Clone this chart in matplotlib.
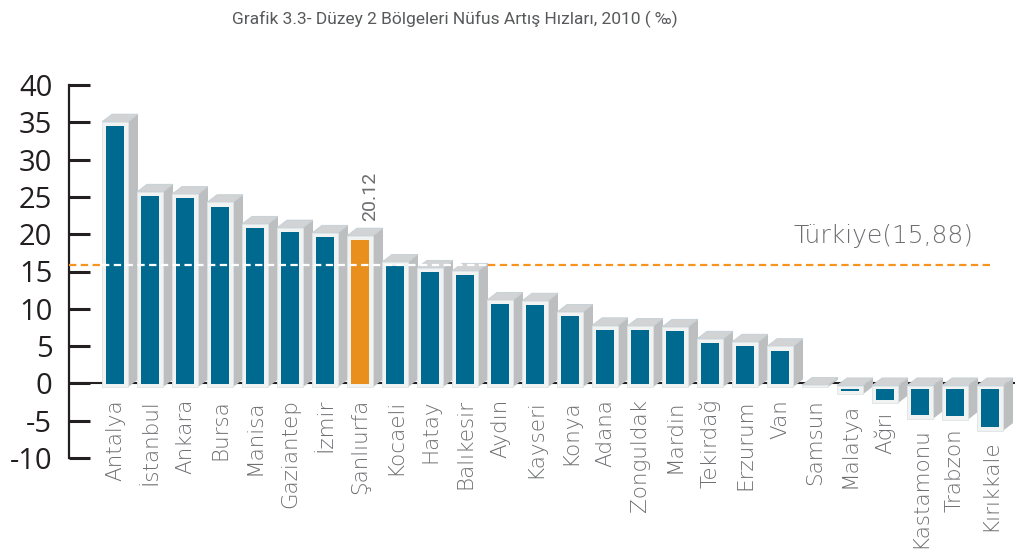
import matplotlib
matplotlib.use('Agg')
import matplotlib.pyplot as plt
from matplotlib.patches import Polygon, Rectangle

# ---------------- data ----------------
regions = ['Antalya', 'İstanbul', 'Ankara', 'Bursa', 'Manisa', 'Gaziantep', 'İzmir',
           'Şanlıurfa', 'Kocaeli', 'Hatay', 'Balıkesir', 'Aydın', 'Kayseri', 'Konya',
           'Adana', 'Zonguldak', 'Mardin', 'Tekirdağ', 'Erzurum', 'Van', 'Samsun',
           'Malatya', 'Ağrı', 'Kastamonu', 'Trabzon', 'Kırıkkale']
rates = [35.4, 26.0, 25.7, 24.6, 21.7, 21.2, 20.5, 20.12, 16.6, 15.8, 15.4, 11.5,
         11.4, 9.9, 8.1, 8.0, 7.9, 6.3, 5.9, 5.3, 0.1, -1.0, -2.2, -4.3, -4.4, -5.9]
highlight = 'Şanlıurfa'
highlight_label = '20.12'
turkiye_rate = 15.88
turkiye_label = 'Türkiye(15,88)'
yticks = [40, 35, 30, 25, 20, 15, 10, 5, 0, -5, -10]
title = 'Grafik 3.3- Düzey 2 Bölgeleri Nüfus Artış Hızları, 2010 ( ‰)'

# ---------------- style ----------------
BLUE = '#006990'
ORANGE = '#E88F1E'
LINE_ORANGE = '#F7941D'
SIDE = '#BCBEC0'
TOP = '#D1D3D4'
FRONT = '#F1F2F2'
TEXT_GRAY = '#6D6E71'

fig = plt.figure(figsize=(10.18, 5.5), dpi=100)
ax = fig.add_axes([69 / 1018, 92 / 550, (1015 - 69) / 1018, (458 - 85) / 550])

n = len(regions)
xmin = -1.314
xmax = xmin + (1015 - 69) / 35
ax.set_xlim(xmin, xmax)
ax.set_ylim(-10, 40)

W_OUT = 0.743
W_IN = 0.514
DX = 0.286
DY = 1.03

ax.axhline(0, color='#231F20', lw=1.5, zorder=1)

for i, (name, v) in enumerate(zip(regions, rates)):
    col = ORANGE if name == highlight else BLUE
    xl = i - W_OUT / 2
    xr = i + W_OUT / 2
    if v >= 0:
        ob, ot = -0.5, v - 0.34
        ib, it = -0.1, v - 0.9
    else:
        ob, ot = v - 0.45, -0.3
        ib, it = v, -0.8
    z = 2 + i * 0.01
    side = Polygon([(xr, ob), (xr + DX, ob + DY), (xr + DX, ot + DY), (xr, ot)],
                   closed=True, facecolor=SIDE, edgecolor='none', zorder=z)
    top = Polygon([(xl, ot), (xl + DX, ot + DY), (xr + DX, ot + DY), (xr, ot)],
                  closed=True, facecolor=TOP, edgecolor='#C3CFD5', lw=0.6, zorder=z)
    front = Rectangle((xl, ob), W_OUT, ot - ob, facecolor=FRONT,
                      edgecolor='#DDE3E6', lw=0.6, zorder=z)
    ax.add_patch(side)
    ax.add_patch(top)
    ax.add_patch(front)
    if it > ib:
        inner = Rectangle((i - W_IN / 2, ib), W_IN, it - ib, facecolor=col,
                          edgecolor='none', zorder=z + 0.001)
        ax.add_patch(inner)
    ly = (-2.1 if v >= 0 else v - 1.6)
    ax.text(i, ly, name, rotation=90, ha='center', va='top', fontsize=15.5,
            color=TEXT_GRAY, fontweight='light', clip_on=False, zorder=5)
    if name == highlight:
        ax.text(i + 0.29, v + 1.7, highlight_label, rotation=90, ha='center',
                va='bottom', fontsize=14, color=TEXT_GRAY,
                family=['Roboto', 'DejaVu Sans'])

# Türkiye average line: orange outside the tall bars, white over them
x_white_start = 0 - W_OUT / 2
x_white_end = 10 + W_OUT / 2 + DX
x_end = n - 1 - 0.0
dash = dict(lw=1.6, dashes=(3.3, 2.0), zorder=6)
ax.plot([xmin, x_white_start], [turkiye_rate, turkiye_rate], color=LINE_ORANGE, **dash)
ax.plot([x_white_start, x_white_end], [turkiye_rate, turkiye_rate], color='white', **dash)
ax.plot([x_white_end, x_end], [turkiye_rate, turkiye_rate], color=LINE_ORANGE, **dash)
ax.text(21.97, turkiye_rate + 3.85, turkiye_label, ha='center', va='center',
        fontsize=18, color=TEXT_GRAY, fontweight='light')

# axes styling
for s in ['top', 'right', 'bottom']:
    ax.spines[s].set_visible(False)
ax.spines['left'].set_linewidth(1.6)
ax.spines['left'].set_color('#231F20')
ax.set_xticks([])
ax.set_yticks(yticks)
ax.set_yticklabels([str(t) for t in yticks], fontsize=21, color='#231F20',
                   family=['Open Sans', 'DejaVu Sans'])
ax.tick_params(axis='y', direction='in', length=15, width=2.2, color='#231F20', pad=12)
ax.patch.set_alpha(0)

fig.text(455 / 1018, 1 - 19 / 550, title, ha='center', va='center', fontsize=12.5,
         color='#58595B', family=['Roboto', 'DejaVu Sans'])

fig.savefig('out.png', dpi=100)
